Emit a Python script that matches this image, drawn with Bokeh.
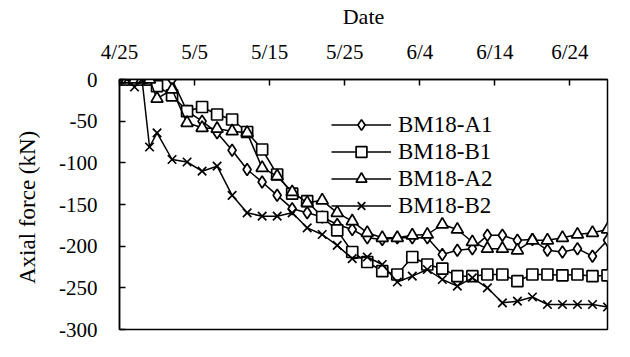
from bokeh.plotting import figure
from bokeh.models import Range1d, FixedTicker, Legend, LegendItem
from bokeh.embed import file_html
from bokeh.resources import INLINE

# days since 4/25
days = [0, 1, 2, 3, 4, 5, 7, 9, 11, 13, 15, 17, 19, 21, 23, 25, 27, 29, 31,
        33, 35, 37, 39, 41, 43, 45, 47, 49, 51, 53, 55, 57, 59, 61, 63, 65]

bm18_a1 = [0, 0, 0, 0, 0, 0, 0, -38, -50, -64, -85, -108, -123, -139, -155,
           -160, -165, -174, -180, -190, -192, -190, -190, -190, -210, -205,
           -203, -187, -187, -193, -192, -205, -207, -203, -212, -193]
bm18_b1 = [0, 0, 0, 0, 0, -8, -19, -38, -33, -42, -48, -63, -84, -114, -137,
           -146, -165, -181, -207, -219, -230, -234, -213, -222, -227, -236,
           -236, -234, -234, -242, -234, -234, -235, -234, -236, -235]
bm18_a2 = [0, 0, 0, 0, 0, -23, -12, -52, -58, -59, -62, -64, -106, -116, -135,
           -148, -145, -160, -170, -184, -190, -190, -187, -186, -174, -180,
           -195, -203, -203, -205, -193, -193, -190, -186, -184, -180]
bm18_b2 = [0, 0, -9, 0, -81, -64, -96, -99, -110, -104, -139, -160, -164, -164,
           -160, -178, -186, -199, -215, -213, -222, -243, -236, -228, -240,
           -248, -238, -250, -268, -266, -261, -270, -270, -270, -270, -273]

tick_days = [0, 10, 20, 30, 40, 50, 60]
tick_labels = ["4/25", "5/5", "5/15", "5/25", "6/4", "6/14", "6/24"]
y_ticks = [0, -50, -100, -150, -200, -250, -300]
y_tick_labels = ["0", "-50", "-100", "-150", "-200", "-250", "-300"]

series = [
    ("BM18-A1", bm18_a1, "diamond", 12),
    ("BM18-B1", bm18_b1, "square", 11),
    ("BM18-A2", bm18_a2, "triangle", 12),
    ("BM18-B2", bm18_b2, "x", 12),
]

FONT = "Liberation Serif"

p = figure(width=614, height=341, output_backend="svg", toolbar_location=None,
           x_range=Range1d(0, 65), y_range=Range1d(-300, 0),
           x_axis_location="above", min_border_left=119, min_border_right=7,
           min_border_top=79, min_border_bottom=12)
p.background_fill_color = "white"
p.border_fill_color = "white"
p.outline_line_color = "black"
p.outline_line_width = 1.5
p.xgrid.visible = False
p.ygrid.visible = False

xa = p.xaxis[0]
xa.ticker = FixedTicker(ticks=tick_days)
xa.major_label_overrides = {d: l for d, l in zip(tick_days, tick_labels)}
xa.axis_label = "Date"
ya = p.yaxis[0]
ya.ticker = FixedTicker(ticks=y_ticks)
ya.major_label_overrides = {t: l for t, l in zip(y_ticks, y_tick_labels)}
ya.axis_label = "Axial force  (kN)"
for ax in (xa, ya):
    ax.axis_line_color = "black"
    ax.axis_line_width = 1.5
    ax.major_tick_in = 6
    ax.major_tick_out = 0
    ax.minor_tick_line_color = None
    ax.major_tick_line_width = 1.5
    ax.major_label_text_font = FONT
    ax.major_label_text_font_size = "21px"
    ax.major_label_text_color = "black"
    ax.axis_label_text_font = FONT
    ax.axis_label_text_font_size = "22px"
    ax.axis_label_text_font_style = "normal"
    ax.axis_label_text_color = "black"
xa.major_label_standoff = 16
xa.axis_label_standoff = 8
ya.major_label_standoff = 22
ya.axis_label_standoff = 16
ya.axis_label_text_font_size = "23px"

items = []
for name, vals, marker, size in series:
    ln = p.line(days, vals, line_color="black", line_width=1.5)
    sc = p.scatter(days, vals, marker=marker, size=size, line_color="black",
                   fill_color="white", line_width=1.7)
    items.append(LegendItem(label=name, renderers=[ln, sc]))

legend = Legend(items=items, location=(212, 110), orientation="vertical")
legend.background_fill_alpha = 0
legend.border_line_color = None
legend.padding = 0
legend.margin = 0
legend.spacing = 0
legend.glyph_width = 60
legend.glyph_height = 27
legend.label_height = 27
legend.label_standoff = 7
legend.label_text_font = FONT
legend.label_text_font_size = "23px"
legend.label_text_color = "black"
p.add_layout(legend, "center")

open("out.html", "w").write(file_html(p, INLINE))
